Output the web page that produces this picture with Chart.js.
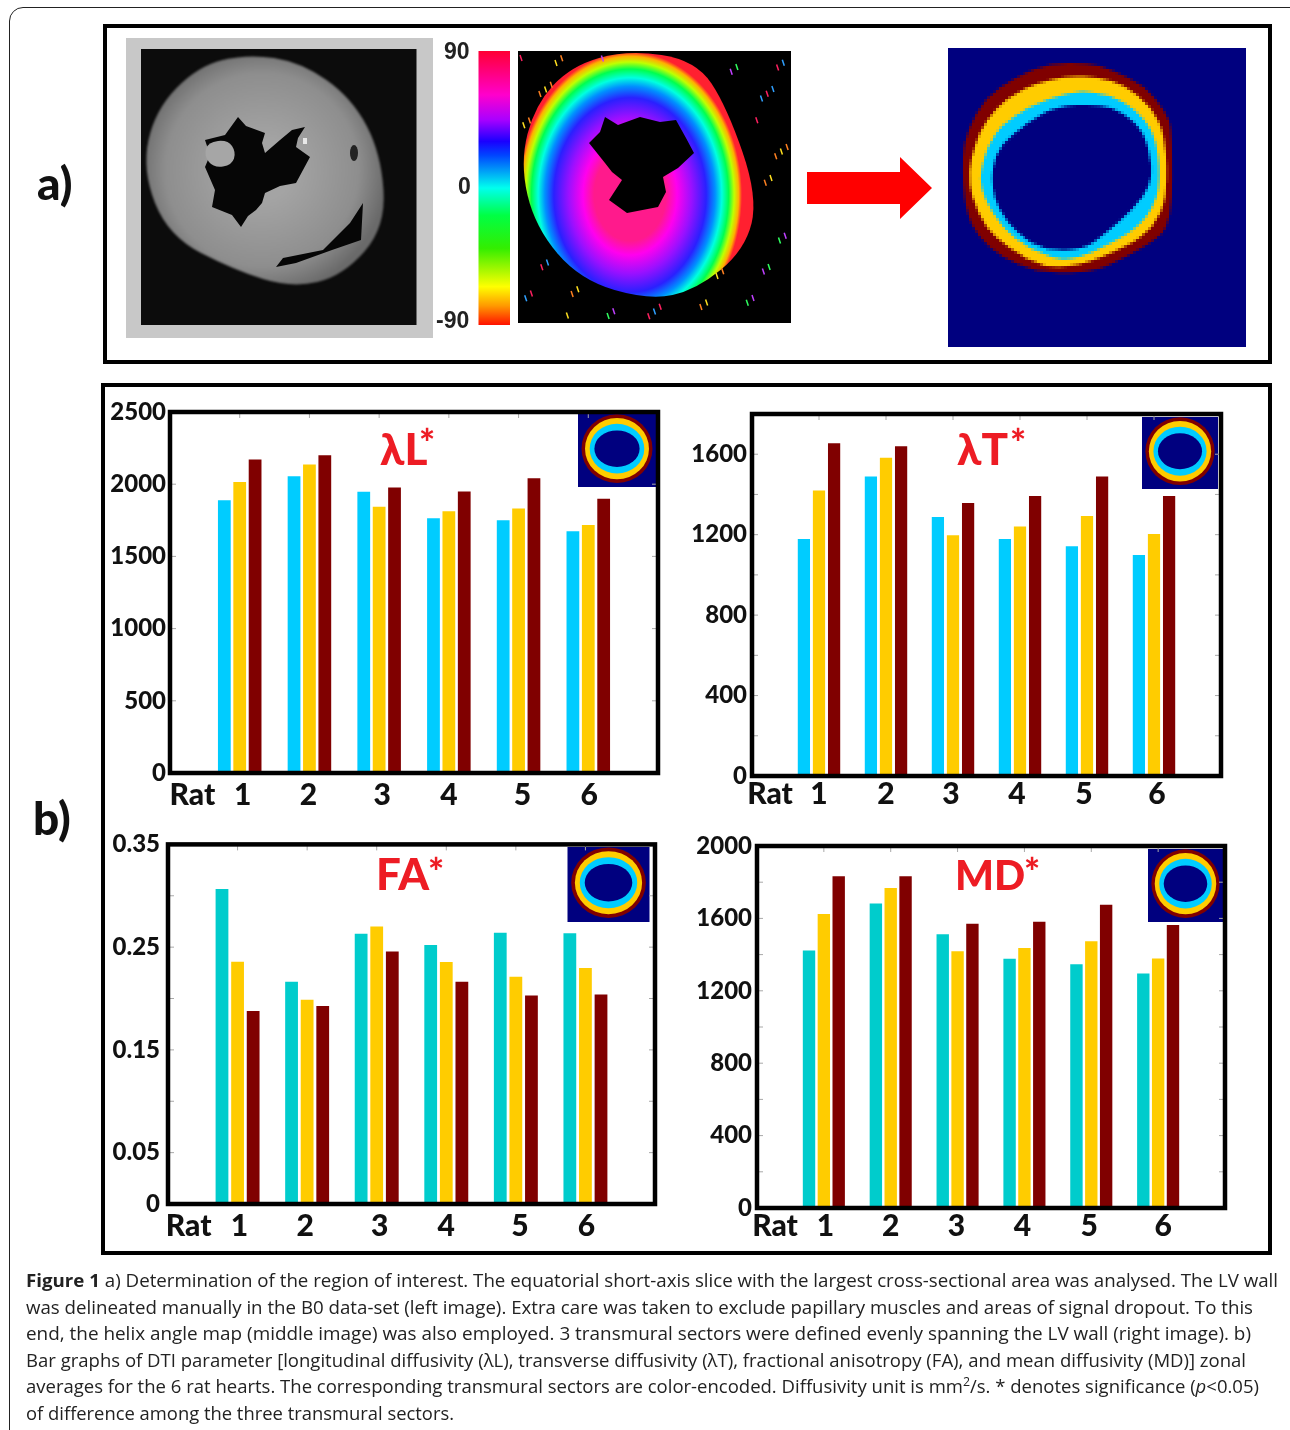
<!DOCTYPE html>
<html>
<head>
<meta charset="utf-8">
<title>Figure 1</title>
<script src="https://cdn.jsdelivr.net/npm/chart.js@4/dist/chart.umd.min.js"></script>
<style>
html, body { margin: 0; padding: 0; background: #fff; }
body { position: relative; width: 1290px; height: 1430px; overflow: hidden; }
canvas { position: absolute; }
.card { position: absolute; left: 9px; top: 7px; width: 1300px; height: 1500px; border: 1.5px solid #222; border-radius: 14px; }
.box { position: absolute; border: 4.5px solid #000; box-sizing: border-box; }
.txt { position: absolute; white-space: nowrap; line-height: 1; font-family: Lato, sans-serif; font-weight: 900; }
.cap { position: absolute; left: 26px; white-space: nowrap; line-height: 1; font-family: "Open Sans", sans-serif; font-size: 18px; color: #222; transform-origin: 0 0; }
.cap sup { font-size: 12px; line-height: 0; }
</style>
</head>
<body>
<div class="card"></div>
<canvas id="art" width="1290" height="1430" style="left:0;top:0"></canvas>
<div class="box" style="left:103px;top:24px;width:1169px;height:340px"></div>
<div class="box" style="left:101px;top:383px;width:1171px;height:872px"></div>
<canvas id="chartL"></canvas>
<canvas id="chartT"></canvas>
<canvas id="chartFA"></canvas>
<canvas id="chartMD"></canvas>

<script>
// data
const rats = ["1", "2", "3", "4", "5", "6"];

const lambdaLInner = [1889, 2055, 1947, 1765, 1751, 1675];
const lambdaLMid = [2016, 2136, 1843, 1813, 1832, 1717];
const lambdaLOuter = [2171, 2200, 1977, 1949, 2041, 1899];
const lambdaLTicks = [0, 500, 1000, 1500, 2000, 2500];

const lambdaTInner = [1179, 1489, 1288, 1179, 1142, 1099];
const lambdaTMid = [1420, 1582, 1197, 1241, 1293, 1203];
const lambdaTOuter = [1655, 1640, 1357, 1392, 1489, 1392];
const lambdaTTicks = [0, 400, 800, 1200, 1600];

const faInner = [0.3066, 0.2162, 0.2631, 0.2522, 0.2641, 0.2635];
const faMid = [0.2358, 0.1988, 0.2702, 0.2355, 0.2213, 0.2297];
const faOuter = [0.1879, 0.1927, 0.2458, 0.2162, 0.2030, 0.2040];
const faTicks = [0, 0.05, 0.15, 0.25, 0.35];

const mdInner = [1423, 1682, 1513, 1377, 1347, 1296];
const mdMid = [1625, 1768, 1419, 1436, 1474, 1379];
const mdOuter = [1833, 1833, 1570, 1581, 1676, 1564];
const mdTicks = [0, 400, 800, 1200, 1600, 2000];

const CYAN = "#00ccff", TEAL = "#00cccc", YELLOW = "#ffcc00", MAROON = "#800000";
const INK = "#111";

// nudge: small shifts of the hand placed x labels in the original
function makeChart(id, o) {
    const cv = document.getElementById(id);
    const padL = 70, padT = 20, padR = 20, padB = 60;
    cv.width = o.right - o.left + padL + padR;
    cv.height = o.bottom - o.top + padT + padB;
    cv.style.left = (o.left - padL) + "px";
    cv.style.top = (o.top - padT) + "px";

    const frame = {
        id: "frame",
        afterDatasetsDraw(chart) {
            const c = chart.ctx, a = chart.chartArea, x = chart.scales.x, y = chart.scales.y;
            c.save();
            // inner tick marks
            c.strokeStyle = "#a8a8a8";
            c.lineWidth = 1;
            y.ticks.forEach((t, i) => {
                const py = y.getPixelForTick(i);
                c.beginPath(); c.moveTo(a.right - 6, py); c.lineTo(a.right, py); c.stroke();
                c.beginPath(); c.moveTo(a.left, py); c.lineTo(a.left + 6, py); c.stroke();
            });
            x.ticks.forEach((t, i) => {
                const px = x.getPixelForTick(i);
                c.beginPath(); c.moveTo(px, a.top); c.lineTo(px, a.top + 6); c.stroke();
            });
            c.strokeStyle = "#000";
            c.lineWidth = 4.5;
            c.strokeRect(a.left, a.top, a.right - a.left, a.bottom - a.top);
            // x labels
            c.fillStyle = INK;
            c.font = "900 30px Lato";
            c.textAlign = "center";
            c.textBaseline = "alphabetic";
            c.fillText("Rat", o.ratX - o.left + padL, a.bottom + o.labelDy);
            rats.forEach((r, i) => {
                c.fillText(r, x.getPixelForValue(i + 1) + o.nudge[i], a.bottom + o.labelDy);
            });
            c.restore();
        }
    };

    new Chart(cv, {
        type: "bar",
        data: {
            labels: ["", ...rats, ""],
            datasets: [
                { data: [null, ...o.inner, null], backgroundColor: o.innerColor },
                { data: [null, ...o.mid, null], backgroundColor: YELLOW },
                { data: [null, ...o.outer, null], backgroundColor: MAROON }
            ]
        },
        options: {
            responsive: false,
            animation: false,
            events: [],
            categoryPercentage: o.catPct,
            barPercentage: o.barPct,
            layout: { padding: { top: padT, right: padR } },
            plugins: { legend: { display: false }, tooltip: { enabled: false } },
            scales: {
                x: {
                    offset: false,
                    grid: { display: false },
                    border: { display: false },
                    ticks: { display: false },
                    afterFit: s => { s.height = padB; }
                },
                y: {
                    min: 0,
                    max: o.max,
                    grid: { display: false, drawTicks: false },
                    border: { display: false },
                    afterFit: s => { s.width = padL; },
                    ticks: {
                        stepSize: o.step,
                        autoSkip: false,
                        maxRotation: 0,
                        padding: o.tickPad,
                        color: INK,
                        font: { family: "Lato", weight: "900", size: 24 },
                        callback: v => {
                            const n = +(+v).toFixed(2);
                            return o.labels.includes(n) ? String(n) : "";
                        }
                    }
                }
            }
        },
        plugins: [frame]
    });
}

makeChart("chartL", {
    left: 169.6, right: 658, top: 411.7, bottom: 773.3, max: 2500, step: 500, tickPad: 4,
    inner: lambdaLInner, mid: lambdaLMid, outer: lambdaLOuter, innerColor: CYAN, labels: lambdaLTicks,
    catPct: 0.662, barPct: 0.83, ratX: 192, labelDy: 32, nudge: [3, -1, 3, 0, 4, 1]
});
makeChart("chartT", {
    left: 752, right: 1221.5, top: 414.3, bottom: 777.3, max: 1800, step: 200, tickPad: 5,
    inner: lambdaTInner, mid: lambdaTMid, outer: lambdaTOuter, innerColor: CYAN, labels: lambdaTTicks,
    catPct: 0.676, barPct: 0.81, ratX: 770, labelDy: 28, nudge: [0, 0, -2, -3, -3, 3]
});
makeChart("chartFA", {
    left: 167.7, right: 655, top: 842.3, bottom: 1205, max: 0.35, step: 0.05, tickPad: 8,
    inner: faInner, mid: faMid, outer: faOuter, innerColor: TEAL, labels: faTicks,
    catPct: 0.672, barPct: 0.82, ratX: 188.4, labelDy: 32, nudge: [2, -2, 3, 0, 4, 1]
});
makeChart("chartMD", {
    left: 756.5, right: 1225, top: 845.7, bottom: 1208.3, max: 2000, step: 200, tickPad: 5,
    inner: mdInner, mid: mdMid, outer: mdOuter, innerColor: TEAL, labels: mdTicks,
    catPct: 0.666, barPct: 0.835, ratX: 774.5, labelDy: 28, nudge: [1.5, 0, -1, -2, -2, 5]
});

// ---- panel a) pictures and ring insets, plain canvas, not data ----
const art = document.getElementById("art").getContext("2d");

function trace(c, pts) {
    c.beginPath();
    pts.forEach((p, i) => i ? c.lineTo(p[0], p[1]) : c.moveTo(p[0], p[1]));
    c.closePath();
}
function poly(c, pts, fill) {
    trace(c, pts);
    c.fillStyle = fill;
    c.fill();
}
// rounded outline through the midpoints, for the organic shapes
function blob(c, pts, fill) {
    const n = pts.length;
    const mid = (a, b) => [(a[0] + b[0]) / 2, (a[1] + b[1]) / 2];
    const s = mid(pts[n - 1], pts[0]);
    c.beginPath();
    c.moveTo(s[0], s[1]);
    pts.forEach((p, i) => {
        const m = mid(p, pts[(i + 1) % n]);
        c.quadraticCurveTo(p[0], p[1], m[0], m[1]);
    });
    c.closePath();
    if (fill) { c.fillStyle = fill; c.fill(); }
}

// grey B0 image
art.fillStyle = "#c8c8c8"; art.fillRect(126, 38, 307, 300);
art.fillStyle = "#0c0c0c"; art.fillRect(141, 49, 275.5, 276);
const heart = [[247,54],[301,62],[352,98],[381,153],[386,227],[343,276],[292,288],[234,270],[168,236],[142,170],[155,110],[198,66]];
const hg = art.createRadialGradient(262, 170, 30, 262, 170, 125);
hg.addColorStop(0, "#a4a4a4"); hg.addColorStop(0.7, "#8e8e8e"); hg.addColorStop(1, "#6a6a6a");
art.save();
art.filter = "blur(1px)";
blob(art, heart, hg);
art.restore();
poly(art, [[238,117],[246,126],[265,133],[262,143],[265,153],[280,140],[292,130],[305,127],[298,138],[296,147],[310,157],[303,170],[296,183],[280,186],[265,193],[262,203],[256,210],[248,216],[241,227],[232,215],[212,207],[215,190],[205,167],[210,155],[205,140],[225,135]], "#060606");
blob(art, [[208,142],[228,140],[236,152],[232,165],[214,168],[204,156]], "#a6a6a6");
poly(art, [[363,203],[361,240],[332,250],[296,263],[276,267],[283,258],[323,250],[350,223]], "#060606");
art.fillStyle = "#222";
art.beginPath(); art.ellipse(354, 153, 4, 8, 0, 0, 7); art.fill();
art.fillStyle = "#e8e8e8";
art.fillRect(303, 138, 4, 6);

// colour bar
const bar = art.createLinearGradient(0, 51, 0, 325);
[[0, "#ff0033"], [0.16, "#ff00cc"], [0.25, "#aa00ff"], [0.33, "#1a00ff"], [0.38, "#0044ff"], [0.5, "#00ffee"], [0.6, "#00ff44"], [0.72, "#33ee00"], [0.86, "#ffff00"], [0.93, "#ff9900"], [1, "#ff1100"]]
    .forEach(s => bar.addColorStop(s[0], s[1]));
art.fillStyle = bar; art.fillRect(478.5, 51, 31.5, 274);

// helix angle map
art.fillStyle = "#000"; art.fillRect(518, 51, 273, 272);
art.save();
const wall = [[627,50],[696,60],[727,107],[758,197],[745,250],[696,290],[649,300],[580,280],[535,227],[520,163],[535,105],[571,66]];
blob(art, wall);
art.clip();
art.translate(630, 195);
art.scale(112 / 143, 1);
const hx = art.createRadialGradient(0, 0, 0, 0, 0, 143);
[[0, "#ff1a8c"], [0.32, "#ff1a8c"], [0.42, "#ff00ee"], [0.55, "#9a10ff"], [0.68, "#2a20ff"], [0.76, "#0090ff"], [0.82, "#00ffe0"], [0.88, "#00ff50"], [0.93, "#c0ff00"], [0.97, "#ffb000"], [1, "#ff2030"]]
    .forEach(s => hx.addColorStop(s[0], s[1]));
art.fillStyle = hx;
art.fillRect(-200, -200, 400, 400);
art.restore();
poly(art, [[605,117],[618,125],[640,117],[660,122],[676,120],[686,138],[694,153],[678,168],[663,177],[666,192],[658,207],[627,213],[609,200],[622,180],[612,172],[605,163],[589,143],[600,132]], "#000");

// stray speckles in the map
const speckCols = ["#ff2060", "#30ff60", "#ffe020", "#30a0ff", "#c040ff", "#ff8020"];
for (let i = 0; i < 130; i++) {
    const sx = 520 + (i * 173.3) % 268, sy = 55 + (i * 97.7) % 262;
    const dx = (sx - 640) / 122, dy = (sy - 175) / 125;
    if (dx * dx + dy * dy < 1) continue;
    art.strokeStyle = speckCols[i % speckCols.length];
    art.lineWidth = 1.5;
    art.beginPath(); art.moveTo(sx, sy); art.lineTo(sx + 2, sy + 6); art.stroke();
}

// red arrow
poly(art, [[807,172],[900,172],[900,157],[932,188],[900,219],[900,204],[807,204]], "#ff0000");

// ring mask, drawn small then blown up so the steps stay blocky
const zm = p => [p[0] / 3, p[1] / 3];
const ringSrc = document.createElement("canvas");
ringSrc.width = 100; ringSrc.height = 100;
const rc = ringSrc.getContext("2d");
const NAVY = "#00007f";
rc.fillStyle = NAVY; rc.fillRect(0, 0, 100, 100);
rc.save();
rc.scale(1 / 3, 1 / 3);
rc.translate(-474 / 3, -55 / 3);
blob(rc, [[785,100],[900,100],[965,120],[1065,165],[1130,245],[1150,300],[1150,585],[1085,645],[950,715],[880,732],[740,732],[635,685],[565,625],[525,545],[515,380],[535,295],[585,205],[680,140]].map(zm), MAROON);
blob(rc, [[840,138],[930,145],[1005,165],[1085,230],[1130,315],[1135,505],[1095,595],[1015,655],[860,715],[760,715],[655,660],[585,595],[545,505],[535,425],[555,345],[585,275],[655,200],[740,160]].map(zm), YELLOW);
blob(rc, [[840,185],[920,185],[1005,215],[1065,265],[1105,335],[1115,485],[1065,585],[965,645],[860,695],[780,687],[675,635],[605,555],[572,475],[572,420],[595,345],[635,285],[720,230]].map(zm), CYAN);
blob(rc, [[800,230],[930,222],[1005,250],[1065,305],[1090,410],[1083,470],[1035,540],[950,615],[880,665],[770,665],[685,620],[625,545],[607,475],[607,415],[630,345],[720,275]].map(zm), NAVY);
rc.restore();

art.imageSmoothingEnabled = false;
art.drawImage(ringSrc, 948, 48, 298, 299);
art.imageSmoothingEnabled = true;

// small copies of the ring in the chart corners
[[578, 414, 78, 73], [1142, 417, 76, 72], [567.5, 847, 82, 75], [1148, 849, 75, 73]].forEach(r => {
    art.fillStyle = NAVY;
    art.fillRect(r[0], r[1], r[2], r[3]);
    const cx = r[0] + r[2] * 0.5, cy = r[1] + r[3] * 0.475;
    [[0.455, 0.47, MAROON], [0.41, 0.42, YELLOW], [0.35, 0.34, CYAN], [0.29, 0.25, NAVY]].forEach(e => {
        art.fillStyle = e[2];
        art.beginPath();
        art.ellipse(cx, cy, r[2] * e[0], r[3] * e[1], 0, 0, 7);
        art.fill();
    });
});

// ---- loose text ----
function put(text, x, base, size, color, family) {
    const el = document.createElement("div");
    el.className = "txt";
    el.textContent = text;
    el.style.left = x + "px";
    el.style.top = (base - size * (family ? 0.8465 : 0.887)) + "px";
    el.style.fontSize = size + "px";
    el.style.color = color;
    if (family) { el.style.fontFamily = family; el.style.fontWeight = 700; }
    document.body.appendChild(el);
}
put("a)", 37, 201, 46, INK);
put("b)", 33, 836, 46, INK);
const ARIAL = "'Liberation Sans'";
put("90", 444, 59, 23, "#222", ARIAL);
put("0", 458, 194, 23, "#222", ARIAL);
put("-90", 436, 328, 23, "#222", ARIAL);

const RED = "#ed1c24";
put("λL", 380, 465, 44, RED);
put("*", 419, 457, 38, RED);
put("λT", 957, 465, 44, RED);
put("*", 1010, 457, 38, RED);
put("FA", 376, 890, 44, RED);
put("*", 428, 886, 38, RED);
put("MD", 955, 890, 41, RED);
put("*", 1024, 886, 38, RED);

// ---- caption, each line squeezed to the width it has in the figure ----
const captionLines = [
    ["<b>Figure 1</b> a) Determination of the region of interest. The equatorial short-axis slice with the largest cross-sectional area was analysed. The LV wall", 1278],
    ["was delineated manually in the B0 data-set (left image). Extra care was taken to exclude papillary muscles and areas of signal dropout. To this", 1253],
    ["end, the helix angle map (middle image) was also employed. 3 transmural sectors were defined evenly spanning the LV wall (right image). b)", 1251],
    ["Bar graphs of DTI parameter [longitudinal diffusivity (λL), transverse diffusivity (λT), fractional anisotropy (FA), and mean diffusivity (MD)] zonal", 1246],
    ["averages for the 6 rat hearts. The corresponding transmural sectors are color-encoded. Diffusivity unit is mm<sup>2</sup>/s. * denotes significance (<i>p</i>&lt;0.05)", 1259],
    ["of difference among the three transmural sectors.", 454]
];
const captionBase = [1285, 1312, 1338, 1365, 1391, 1418];
captionLines.forEach((l, i) => {
    const el = document.createElement("div");
    el.className = "cap";
    el.innerHTML = l[0];
    el.style.top = (captionBase[i] - 14.5) + "px";
    document.body.appendChild(el);
    el.style.transform = "scaleX(" + ((l[1] - 26) / el.getBoundingClientRect().width) + ")";
});
</script>
</body>
</html>
